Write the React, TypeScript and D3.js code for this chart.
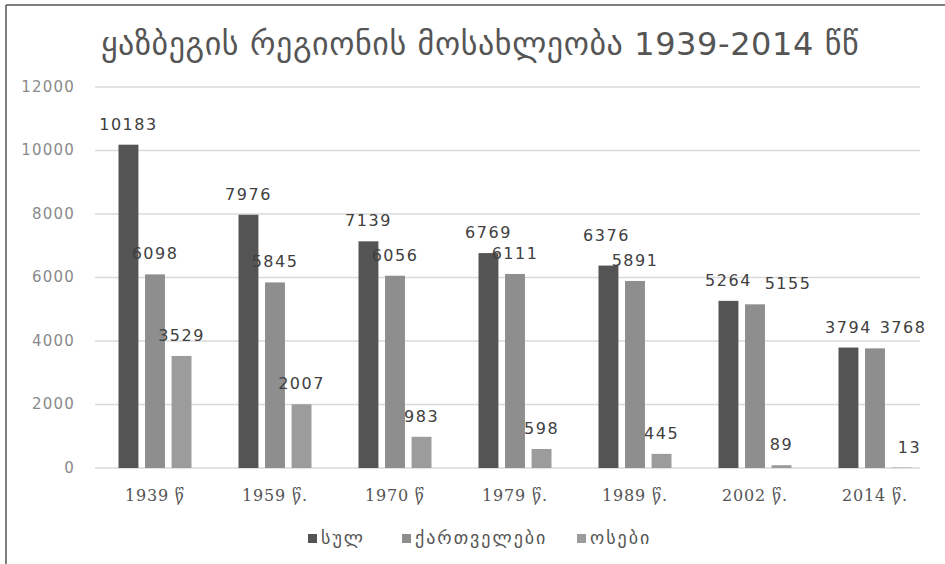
import { useMemo } from 'react';
import * as d3 from 'd3';

const years = ['1939 წ', '1959 წ.', '1970 წ', '1979 წ.', '1989 წ.', '2002 წ.', '2014 წ.'];
const seriesNames = ['სულ', 'ქართველები', 'ოსები'];
const total = [10183, 7976, 7139, 6769, 6376, 5264, 3794];
const georgians = [6098, 5845, 6056, 6111, 5891, 5155, 3768];
const ossetians = [3529, 2007, 983, 598, 445, 89, 13];
const yTicks = [0, 2000, 4000, 6000, 8000, 10000, 12000];
const colors = ['#545454', '#8e8e8e', '#9c9c9c'];

const W = 945;
const H = 564;
const MARGIN = { top: 87, right: 10, bottom: 96, left: 95 };

// hand-moved labels, like in the original (series-year -> [dx, dy])
const labelNudge: Record<string, [number, number]> = {
  '0-4': [-2, -10],
  '1-5': [33, 0],
  '1-6': [28, 0],
  '2-6': [8, 0],
};

export default function App() {
  const boundsWidth = W - MARGIN.left - MARGIN.right;
  const boundsHeight = H - MARGIN.top - MARGIN.bottom;
  const series = [total, georgians, ossetians];

  const xScale = useMemo(() => d3.scaleBand().domain(years).range([0, 840]).padding(0), []);
  const x1 = useMemo(
    () => d3.scaleBand().domain(seriesNames).range([23.5, 96.5]).paddingInner(0.25).paddingOuter(0),
    []
  );
  const yScale = useMemo(() => d3.scaleLinear().domain([0, 12000]).range([boundsHeight, 0]), [boundsHeight]);

  const font = '"DejaVu Sans", sans-serif';

  return (
    <svg width={W} height={H} style={{ position: 'absolute', left: 0, top: 0, background: '#fff' }}>
      {/* frame lines on top and left */}
      <line x1={6} x2={W} y1={5} y2={5} stroke="#555" strokeWidth={1.5} />
      <line x1={6} x2={6} y1={5} y2={H} stroke="#555" strokeWidth={1.5} />

      <text x={480} y={55} textAnchor="middle" fontFamily={font} fontSize={32} letterSpacing={0.6} fill="#555">
        ყაზბეგის რეგიონის მოსახლეობა 1939-2014 წწ
      </text>

      <g transform={`translate(${MARGIN.left},${MARGIN.top})`}>
        {yTicks.map((t) => (
          <g key={t}>
            <line x1={0} x2={boundsWidth - 15} y1={yScale(t)} y2={yScale(t)} stroke="#d9d9d9" strokeWidth={1.3} />
            <text
              x={-20}
              y={yScale(t)}
              textAnchor="end"
              dominantBaseline="middle"
              fontFamily={font}
              fontSize={15}
              letterSpacing={1.2}
              fill="#8a8a8a"
            >
              {t}
            </text>
          </g>
        ))}

        {years.map((yr, i) => (
          <g key={yr} transform={`translate(${xScale(yr)},0)`}>
            {series.map((vals, s) => {
              const x = x1(seriesNames[s]) ?? 0;
              const y = yScale(vals[i]);
              const [dx, dy] = labelNudge[`${s}-${i}`] ?? [0, 0];
              return (
                <g key={s}>
                  <rect x={x} y={y} width={x1.bandwidth()} height={boundsHeight - y} fill={colors[s]} />
                  <text
                    x={x + x1.bandwidth() / 2 + dx}
                    y={y - 15 + dy}
                    textAnchor="middle"
                    fontFamily={font}
                    fontSize={16}
                    letterSpacing={1.5}
                    fill="#404040"
                  >
                    {vals[i]}
                  </text>
                </g>
              );
            })}
            <text
              x={xScale.bandwidth() / 2}
              y={boundsHeight + 33}
              textAnchor="middle"
              fontFamily={'"DejaVu Serif", serif'}
              fontSize={16}
              letterSpacing={0.8}
              fill="#555"
            >
              {yr}
            </text>
          </g>
        ))}
      </g>

      <g transform="translate(0,539)">
        {seriesNames.map((name, s) => {
          const offsets = [308, 402, 577];
          return (
            <g key={name} transform={`translate(${offsets[s]},0)`}>
              <rect x={0} y={-5} width={9} height={9} fill={colors[s]} />
              <text
                x={13}
                y={0}
                dominantBaseline="middle"
                fontFamily={font}
                fontSize={18}
                letterSpacing={2}
                fill="#555"
              >
                {name}
              </text>
            </g>
          );
        })}
      </g>
    </svg>
  );
}
